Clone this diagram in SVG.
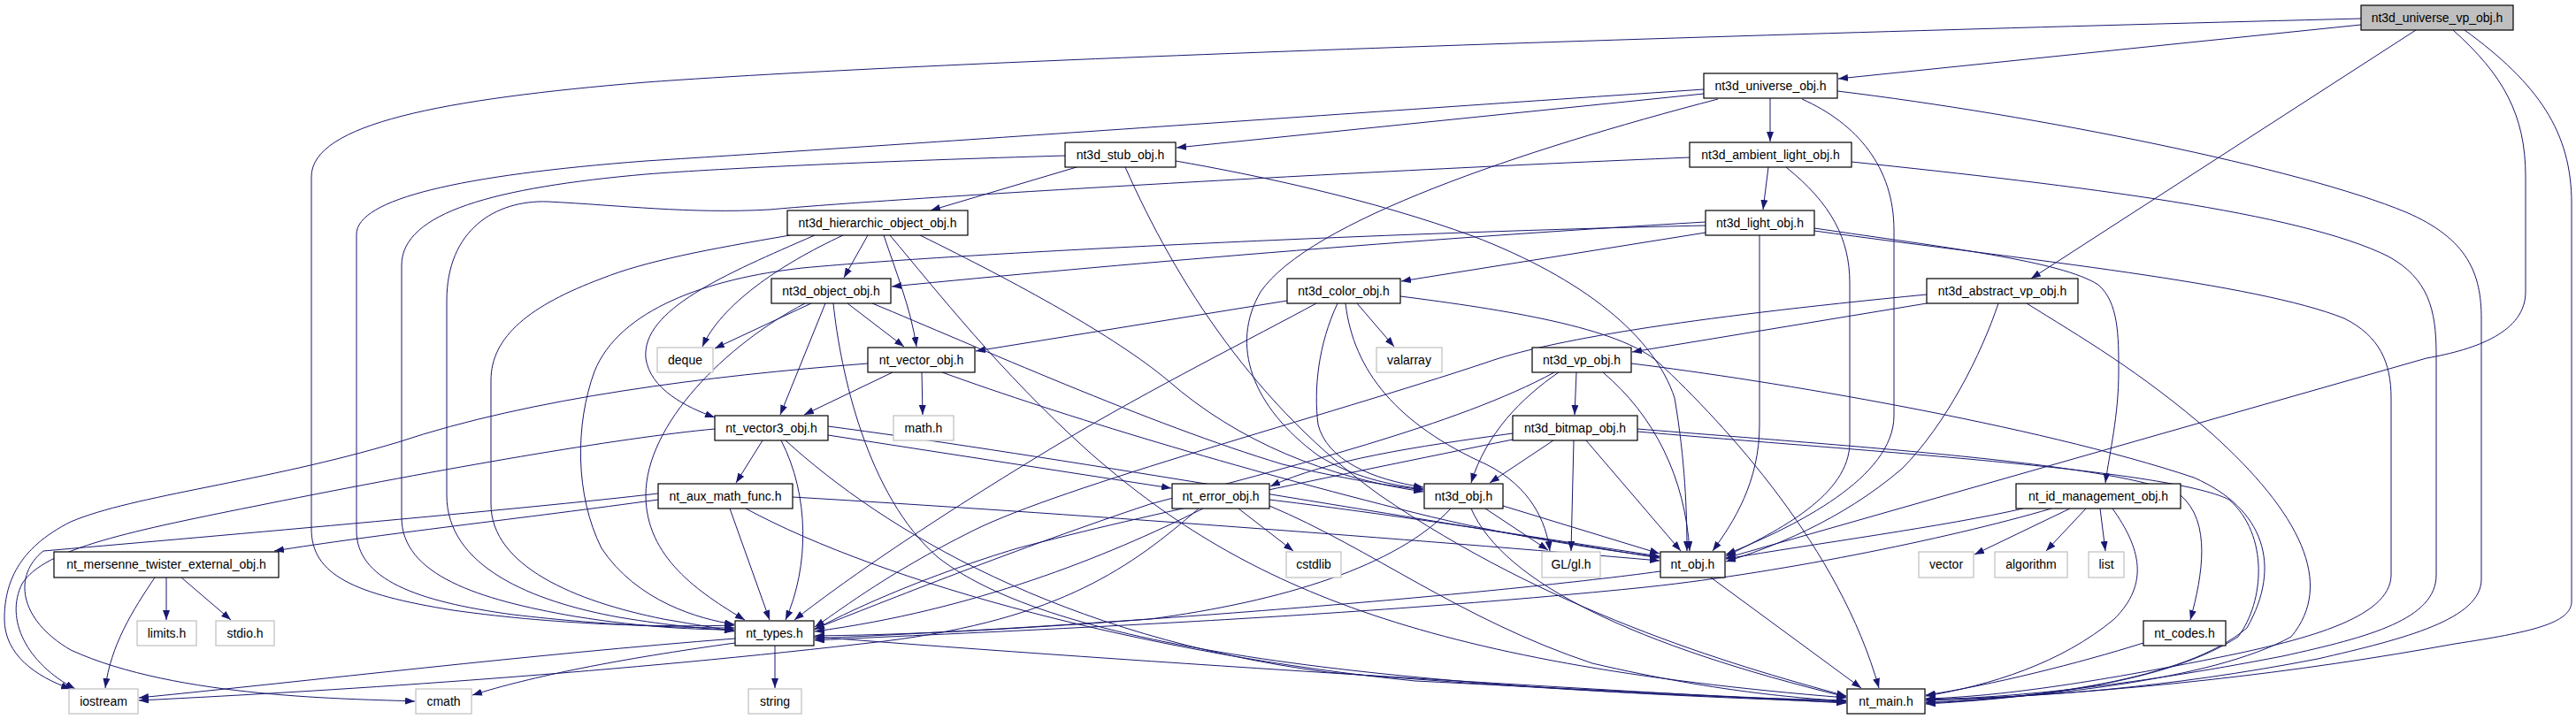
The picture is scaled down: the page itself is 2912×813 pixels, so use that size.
<svg xmlns="http://www.w3.org/2000/svg" width="2912" height="813" viewBox="0 0 2912 813">
<style>
.n rect{fill:#fff;stroke:#000;stroke-width:1.2}
.x rect{fill:#fff;stroke:#bfbfbf;stroke-width:1.2}
.r rect{fill:#bfbfbf;stroke:#000;stroke-width:1.2}
text{font-family:"Liberation Sans",Arial,sans-serif;font-size:14px;fill:#000;text-anchor:middle}
#edges path{fill:none;stroke:#191970;stroke-width:1;marker-end:url(#a)}
</style>
<defs>
<marker id="a" markerUnits="userSpaceOnUse" markerWidth="11" markerHeight="8" viewBox="0 0 11 8" refX="11" refY="4" orient="auto">
<path d="M0,0 L11,4 L0,8 z" fill="#191970"/>
</marker>
</defs>
<rect width="2912" height="813" fill="#fff"/>
<g id="edges">
<path d="M2669,28 L2078,89"/>
<path d="M2731,34 L2296,315"/>
<path d="M2669,21 C2000,38 1100,66 730,93 C500,112 352,140 352,200 L352,598 C352,650 400,672 512,690 C640,708 760,709 830,707"/>
<path d="M2773,34 C2830,85 2855,130 2855,200 L2855,330 C2855,375 2800,395 2743,405 L1951,631"/>
<path d="M2786,34 C2870,95 2907,150 2907,230 L2907,680 C2907,705 2860,715 2775,728 C2600,760 2400,784 2177,792"/>
<path d="M1926,106 L1330,167"/>
<path d="M2001,111 L2001,160"/>
<path d="M1926,101 C1500,130 1000,165 730,182 C520,198 403,225 403,265 L403,600 C403,655 470,680 580,695 C690,708 780,710 830,710"/>
<path d="M1942,112 C1720,170 1480,250 1425,330 C1390,390 1415,460 1490,515 C1530,540 1570,548 1609,553"/>
<path d="M2037,112 C2100,140 2141,190 2141,260 L2141,470 C2141,540 2030,595 1951,627"/>
<path d="M2077,103 C2300,130 2600,190 2720,240 C2790,270 2805,310 2805,360 L2805,655 C2805,700 2720,722 2620,745 C2450,778 2300,789 2177,791"/>
<path d="M1217,189 L1052,238"/>
<path d="M1204,176 C1000,182 820,190 730,197 C560,212 454,240 454,300 L454,585 C454,650 540,678 650,697 C730,710 790,712 830,712"/>
<path d="M1329,182 C1420,198 1550,225 1665,267 C1790,315 1870,380 1893,450 C1905,520 1907,580 1907,623"/>
<path d="M1272,189 C1330,320 1420,460 1560,560 C1750,690 1950,750 2087,787"/>
<path d="M1999,189 L1993,237"/>
<path d="M1910,178 C1500,195 1000,225 870,237 C780,242 700,232 619,228 C560,226 505,260 505,340 L505,560 C505,640 600,680 700,698 C760,708 800,711 830,713"/>
<path d="M2019,189 C2070,230 2091,270 2091,320 L2091,500 C2091,560 2010,600 1951,629"/>
<path d="M2093,183 C2350,210 2600,240 2700,290 C2745,315 2754,350 2754,400 L2754,650 C2754,700 2680,720 2580,742 C2400,777 2270,789 2177,791"/>
<path d="M981,266 L954,314"/>
<path d="M999,266 C1012,305 1030,350 1036,392"/>
<path d="M953,266 C880,300 815,345 794,392"/>
<path d="M921,266 C820,310 725,350 730,405 C735,440 775,460 808,472"/>
<path d="M893,266 C800,282 730,295 680,315 C600,345 555,380 555,430 L555,570 C555,640 650,680 750,700 C790,707 810,710 830,714"/>
<path d="M1006,266 C1060,330 1130,420 1230,510 C1400,660 1600,750 2087,789"/>
<path d="M1040,266 C1150,320 1260,380 1320,430 C1400,500 1500,540 1609,556"/>
<path d="M1928,251 C1600,270 1250,300 1008,324"/>
<path d="M1928,263 L1584,318"/>
<path d="M1928,255 C1600,262 1100,285 907,303 C800,315 700,350 672,420 C650,480 650,560 680,620 C720,680 790,700 830,706"/>
<path d="M1989,266 L1989,480 C1989,545 1960,590 1936,623"/>
<path d="M2051,258 C2200,280 2330,295 2372,322 C2395,342 2395,380 2395,420 C2395,470 2385,510 2380,546"/>
<path d="M2051,261 C2300,295 2550,320 2650,360 C2690,380 2703,410 2703,450 L2703,650 C2703,700 2600,725 2500,745 C2350,775 2250,788 2177,790"/>
<path d="M917,343 L808,394"/>
<path d="M933,343 L882,469"/>
<path d="M958,343 L1022,392"/>
<path d="M910,343 C820,390 730,480 730,560 C730,630 790,670 842,701"/>
<path d="M986,343 C1100,390 1300,480 1450,525 C1520,542 1570,549 1609,554"/>
<path d="M942,343 C950,420 980,560 1060,630 C1200,740 1600,778 2087,794"/>
<path d="M1455,340 L1103,397"/>
<path d="M1534,343 L1576,392"/>
<path d="M1512,343 C1490,390 1485,440 1490,480 C1500,520 1550,542 1609,551"/>
<path d="M1521,343 C1530,420 1580,480 1680,525 C1730,550 1748,590 1752,623"/>
<path d="M1488,343 C1420,380 1300,440 1200,500 C1050,590 950,660 898,701"/>
<path d="M1583,335 C1700,350 1830,370 1875,410 C1950,480 2080,620 2124,778"/>
<path d="M2178,343 L1845,398"/>
<path d="M2178,333 C1900,360 1750,385 1680,410 C1500,470 1200,550 1100,600 C1000,650 950,690 921,709"/>
<path d="M2259,343 C2240,400 2200,480 2150,530 C2080,590 2000,620 1951,635"/>
<path d="M2291,343 C2350,380 2420,420 2500,490 C2600,580 2640,660 2590,720 C2500,770 2300,789 2177,794"/>
<path d="M1782,421 L1780,469"/>
<path d="M1762,421 C1720,450 1680,490 1663,546"/>
<path d="M1757,421 C1650,480 1450,530 1300,570 C1150,620 1000,680 921,711"/>
<path d="M1812,421 C1870,470 1905,540 1910,623"/>
<path d="M1844,411 C2000,430 2300,480 2480,540 C2560,575 2580,640 2540,710 C2470,770 2300,789 2177,795"/>
<path d="M1009,421 L909,469"/>
<path d="M1042,421 L1043,469"/>
<path d="M1065,421 C1200,470 1400,530 1600,580 C1700,605 1800,620 1876,630"/>
<path d="M981,411 C800,425 600,450 450,500 C300,545 150,560 80,590 C20,620 5,660 5,700 C5,740 40,765 80,779"/>
<path d="M1756,498 L1684,546"/>
<path d="M1779,498 L1776,623"/>
<path d="M1793,498 L1900,623"/>
<path d="M1710,490 C1600,505 1500,520 1436,550"/>
<path d="M1710,497 C1500,540 1300,580 1150,620 C1050,650 960,690 921,712"/>
<path d="M1851,485 C2100,505 2400,525 2465,560 C2500,590 2490,650 2476,701"/>
<path d="M1851,488 C2100,510 2450,530 2520,565 C2565,605 2560,680 2530,720 C2450,772 2300,789 2177,796"/>
<path d="M862,498 L832,546"/>
<path d="M883,498 C915,560 915,640 888,701"/>
<path d="M936,492 L1324,552"/>
<path d="M936,482 C1150,510 1500,570 1876,631"/>
<path d="M888,498 C1000,600 1200,720 1500,760 C1800,785 2000,790 2087,792"/>
<path d="M808,485 C700,495 500,530 300,570 C150,600 50,620 25,660 C5,700 30,750 85,779"/>
<path d="M744,565 C600,585 420,605 310,623"/>
<path d="M744,558 C600,575 200,610 49,623 C15,650 20,700 80,735 C200,790 400,790 469,793"/>
<path d="M825,575 L870,701"/>
<path d="M896,562 C1200,580 1600,610 1876,634"/>
<path d="M843,575 C1000,660 1300,740 1600,770 C1900,785 2000,790 2087,793"/>
<path d="M1400,575 L1462,623"/>
<path d="M1360,575 C1250,630 1100,690 921,714"/>
<path d="M1355,575 C1280,640 1200,700 1000,725 C700,760 400,780 157,792"/>
<path d="M1435,565 C1600,585 1750,610 1876,629"/>
<path d="M1435,572 C1550,620 1650,700 1800,750 C1950,785 2050,790 2087,793"/>
<path d="M1679,575 L1750,622"/>
<path d="M1699,572 L1876,626"/>
<path d="M1640,575 C1580,640 1450,680 1300,700 C1100,715 1000,718 921,719"/>
<path d="M1663,575 C1700,660 1850,730 2087,788"/>
<path d="M2340,575 L2232,627"/>
<path d="M2358,575 L2313,623"/>
<path d="M2374,575 L2380,623"/>
<path d="M2287,575 C2200,595 2050,615 1951,632"/>
<path d="M2319,575 C2200,610 2000,650 1850,665 C1500,700 1100,715 921,724"/>
<path d="M2388,575 C2420,620 2430,660 2390,700 C2330,750 2250,775 2177,787"/>
<path d="M1934,653 L2104,778"/>
<path d="M1877,646 C1700,670 1300,705 921,722"/>
<path d="M876,730 L876,778"/>
<path d="M831,722 C600,740 350,770 157,789"/>
<path d="M831,727 C700,745 600,765 534,786"/>
<path d="M920,720 C1300,750 1800,780 2087,795"/>
<path d="M175,653 C150,690 125,730 119,778"/>
<path d="M188,653 L188,701"/>
<path d="M205,653 L261,701"/>
<path d="M2423,727 C2350,750 2250,775 2177,786"/>
</g>
<g id="n_universe_vp" class="r"><rect x="2669" y="6" width="172" height="28"/><text x="2755" y="25">nt3d_universe_vp_obj.h</text></g>
<g id="n_universe" class="n"><rect x="1926" y="83" width="151" height="28"/><text x="2001.5" y="102">nt3d_universe_obj.h</text></g>
<g id="n_stub" class="n"><rect x="1204" y="161" width="125" height="28"/><text x="1266.5" y="180">nt3d_stub_obj.h</text></g>
<g id="n_ambient" class="n"><rect x="1910" y="161" width="183" height="28"/><text x="2001.5" y="180">nt3d_ambient_light_obj.h</text></g>
<g id="n_hier" class="n"><rect x="890" y="238" width="204" height="28"/><text x="992" y="257">nt3d_hierarchic_object_obj.h</text></g>
<g id="n_light" class="n"><rect x="1928" y="238" width="123" height="28"/><text x="1989.5" y="257">nt3d_light_obj.h</text></g>
<g id="n_object" class="n"><rect x="872" y="315" width="135" height="28"/><text x="939.5" y="334">nt3d_object_obj.h</text></g>
<g id="n_color" class="n"><rect x="1455" y="315" width="128" height="28"/><text x="1519" y="334">nt3d_color_obj.h</text></g>
<g id="n_abstract" class="n"><rect x="2178" y="315" width="171" height="28"/><text x="2263.5" y="334">nt3d_abstract_vp_obj.h</text></g>
<g id="n_deque" class="x"><rect x="743" y="393" width="63" height="28"/><text x="774.5" y="412">deque</text></g>
<g id="n_vector_obj" class="n"><rect x="981" y="393" width="121" height="28"/><text x="1041.5" y="412">nt_vector_obj.h</text></g>
<g id="n_valarray" class="x"><rect x="1556" y="393" width="74" height="28"/><text x="1593" y="412">valarray</text></g>
<g id="n_vp" class="n"><rect x="1732" y="393" width="112" height="28"/><text x="1788" y="412">nt3d_vp_obj.h</text></g>
<g id="n_vector3" class="n"><rect x="808" y="470" width="128" height="28"/><text x="872" y="489">nt_vector3_obj.h</text></g>
<g id="n_math" class="x"><rect x="1010" y="470" width="68" height="28"/><text x="1044" y="489">math.h</text></g>
<g id="n_bitmap" class="n"><rect x="1710" y="470" width="141" height="28"/><text x="1780.5" y="489">nt3d_bitmap_obj.h</text></g>
<g id="n_aux" class="n"><rect x="744" y="547" width="152" height="28"/><text x="820" y="566">nt_aux_math_func.h</text></g>
<g id="n_error" class="n"><rect x="1325" y="547" width="110" height="28"/><text x="1380" y="566">nt_error_obj.h</text></g>
<g id="n_nt3d" class="n"><rect x="1610" y="547" width="89" height="28"/><text x="1654.5" y="566">nt3d_obj.h</text></g>
<g id="n_idm" class="n"><rect x="2279" y="547" width="186" height="28"/><text x="2372" y="566">nt_id_management_obj.h</text></g>
<g id="n_mt" class="n"><rect x="61" y="624" width="254" height="29"/><text x="188" y="643">nt_mersenne_twister_external_obj.h</text></g>
<g id="n_cstdlib" class="x"><rect x="1454" y="624" width="62" height="29"/><text x="1485" y="643">cstdlib</text></g>
<g id="n_gl" class="x"><rect x="1743" y="624" width="66" height="29"/><text x="1776" y="643">GL/gl.h</text></g>
<g id="n_ntobj" class="n"><rect x="1877" y="624" width="73" height="29"/><text x="1913.5" y="643">nt_obj.h</text></g>
<g id="n_vector" class="x"><rect x="2169" y="624" width="62" height="29"/><text x="2200" y="643">vector</text></g>
<g id="n_algorithm" class="x"><rect x="2255" y="624" width="82" height="29"/><text x="2296" y="643">algorithm</text></g>
<g id="n_list" class="x"><rect x="2361" y="624" width="40" height="29"/><text x="2381" y="643">list</text></g>
<g id="n_limits" class="x"><rect x="155" y="702" width="67" height="28"/><text x="188.5" y="721">limits.h</text></g>
<g id="n_stdio" class="x"><rect x="244" y="702" width="66" height="28"/><text x="277" y="721">stdio.h</text></g>
<g id="n_types" class="n"><rect x="831" y="702" width="89" height="28"/><text x="875.5" y="721">nt_types.h</text></g>
<g id="n_codes" class="n"><rect x="2423" y="702" width="93" height="28"/><text x="2469.5" y="721">nt_codes.h</text></g>
<g id="n_iostream" class="x"><rect x="78" y="779" width="78" height="28"/><text x="117" y="798">iostream</text></g>
<g id="n_cmath" class="x"><rect x="470" y="779" width="63" height="28"/><text x="501.5" y="798">cmath</text></g>
<g id="n_string" class="x"><rect x="846" y="779" width="60" height="28"/><text x="876" y="798">string</text></g>
<g id="n_main" class="n"><rect x="2088" y="779" width="88" height="28"/><text x="2132" y="798">nt_main.h</text></g>
</svg>
